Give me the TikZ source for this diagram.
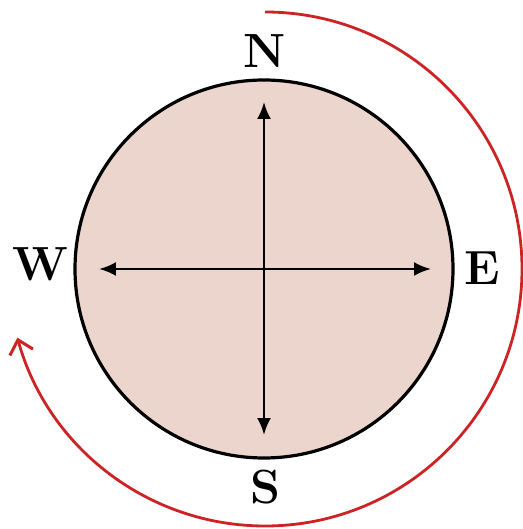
\documentclass[tikz,border=0pt]{standalone}
\usepackage{tikz}
\usetikzlibrary{arrows.meta, positioning}
\definecolor{dialpink}{RGB}{236, 213, 205}
\definecolor{turnred}{RGB}{204, 36, 36}

\begin{document}
\begin{tikzpicture}[x=1pt, y=1pt,
    dial/.style={circle, draw=black, fill=dialpink, line width=3.2pt, minimum size=378pt, inner sep=0pt},
    point/.style={font=\fontsize{48}{48}\selectfont\bfseries, inner sep=0pt},
    axis/.style={{Latex[length=17pt, width=14pt]}-{Latex[length=17pt, width=14pt]}, line width=2.6pt, draw=black},
    turn/.style={-{Straight Barb[length=13pt, width=24pt, line width=3pt]}, line width=2.8pt, draw=turnred}
  ]
    \useasboundingbox (-264,-260) rectangle (258,269);

    \node[dial] (dial) at (0,0) {};

    \coordinate (n) at (0,167);
    \coordinate (s) at (0,-166);
    \coordinate (e) at (167,0);
    \coordinate (w) at (-165,0);

    \node[point] (north) at (1,218) {N};
    \node[point] (south) at (1,-218) {S};
    \node[point] (east) at (218,1) {E};
    \node[point] (west) at (-224,5) {W};

    \draw[axis] (w) -- (e);
    \draw[axis] (n) -- (s);

    % turning direction
    \coordinate (start) at (1,257);
    \draw[turn] (start) arc[start angle=90, end angle=-164.5, radius=257];
  \end{tikzpicture}
\end{document}
